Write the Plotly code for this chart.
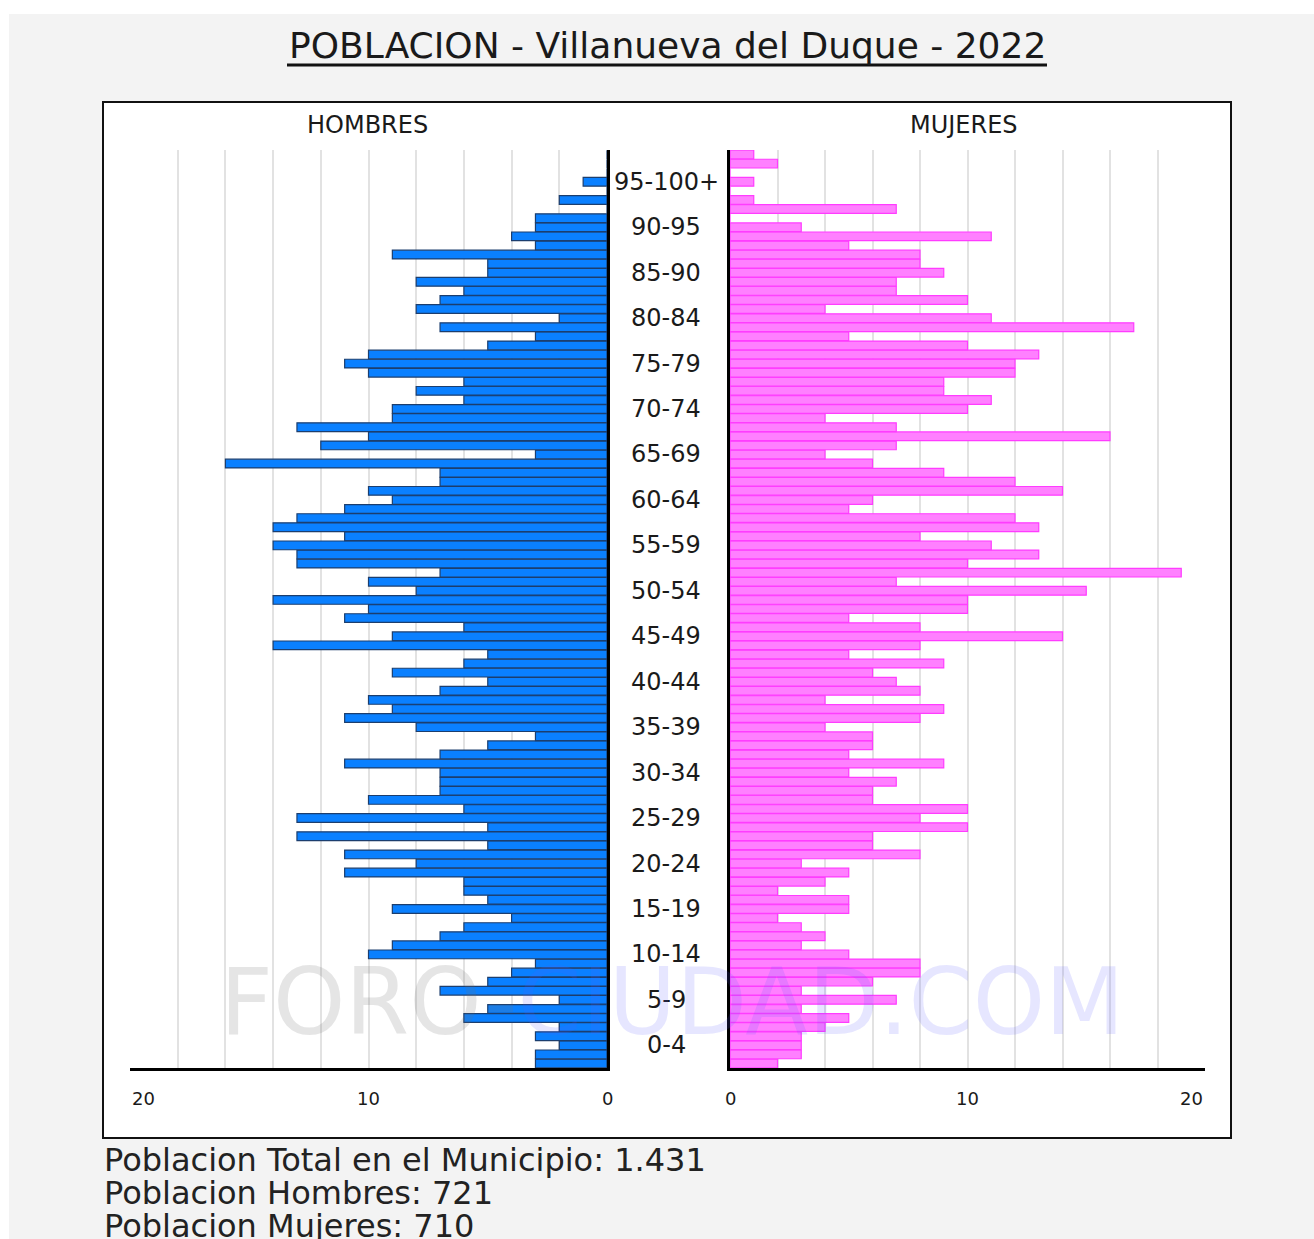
import plotly.graph_objects as go

# ---------------- data ----------------
ages = list(range(101))
men = [3, 3, 2, 3, 2, 6, 5, 2, 7, 5, 4, 3, 10, 9, 7, 6, 4, 9, 5, 6,
       6, 11, 8, 11, 5, 13, 5, 13, 6, 10, 7, 7, 7, 11, 7, 5, 3, 8, 11, 9,
       10, 7, 5, 9, 6, 5, 14, 9, 6, 11, 10, 14, 8, 10, 7, 13, 13, 14, 11, 14,
       13, 11, 9, 10, 7, 7, 16, 3, 12, 10, 13, 9, 9, 6, 8, 6, 10, 11, 10, 5,
       3, 7, 2, 8, 7, 6, 8, 5, 5, 9, 3, 4, 3, 3, 0, 2, 0, 1, 0, 0, 0]
women = [2, 3, 3, 3, 4, 5, 3, 7, 3, 6, 8, 8, 5, 3, 4, 3, 2, 5, 5, 2,
         4, 5, 3, 8, 6, 6, 10, 8, 10, 6, 6, 7, 5, 9, 5, 6, 6, 4, 8, 9,
         4, 8, 7, 6, 9, 5, 8, 14, 8, 5, 10, 10, 15, 7, 19, 10, 13, 11, 8, 13,
         12, 5, 6, 14, 12, 9, 6, 4, 7, 16, 7, 4, 10, 11, 9, 9, 12, 12, 13, 10,
         5, 17, 11, 4, 10, 7, 7, 9, 8, 8, 5, 11, 3, 0, 7, 1, 0, 1, 0, 2, 1]
group_labels = ["0-4", "5-9", "10-14", "15-19", "20-24", "25-29", "30-34", "35-39",
                "40-44", "45-49", "50-54", "55-59", "60-64", "65-69", "70-74", "75-79",
                "80-84", "85-90", "90-95", "95-100+"]
group_centers = [2 + 5 * i for i in range(len(group_labels))]
tick_vals = [20, 10, 0]
tick_text = ["20", "10", "0"]
title = "POBLACION - Villanueva del Duque - 2022"
footer = ["Poblacion Total en el Municipio: 1.431",
          "Poblacion Hombres: 721",
          "Poblacion Mujeres: 710"]

W, H = 1314, 1239
FONT = "DejaVu Sans"


def px(x):
    return x / W


def py(y):
    return 1 - y / H


fig = go.Figure()
fig.add_trace(go.Bar(
    y=ages, x=men, orientation="h", xaxis="x", yaxis="y",
    marker=dict(color="#0a80ff", line=dict(color="#1c3e6e", width=1.2)),
    showlegend=False, hoverinfo="x+y"))
fig.add_trace(go.Bar(
    y=ages, x=women, orientation="h", xaxis="x2", yaxis="y2",
    marker=dict(color="#ff80ff", line=dict(color="#ff3cff", width=1.2)),
    showlegend=False, hoverinfo="x+y"))

y_dom = [py(1068), py(150)]
grid = dict(showgrid=True, gridcolor="#e2e2e2", gridwidth=1.5, dtick=2, tick0=0,
            showticklabels=False, ticks="", zeroline=False,
            showline=True, linecolor="black", linewidth=3, fixedrange=True)
fig.update_layout(
    width=W, height=H,
    margin=dict(l=0, r=0, t=0, b=0),
    paper_bgcolor="white", plot_bgcolor="rgba(0,0,0,0)",
    font=dict(family=FONT, color="#222"),
    bargap=0.04,
    xaxis=dict(domain=[px(130), px(607)], range=[20, 0], anchor="y", **grid),
    xaxis2=dict(domain=[px(730), px(1205)], range=[0, 20], anchor="y2", **grid),
    yaxis=dict(domain=y_dom, range=[-0.5, 100.5], anchor="x", side="right",
               showgrid=False, showticklabels=False, ticks="", zeroline=False,
               showline=True, linecolor="black", linewidth=3, fixedrange=True),
    yaxis2=dict(domain=y_dom, range=[-0.5, 100.5], anchor="x2", side="left",
                showgrid=False, showticklabels=False, ticks="", zeroline=False,
                showline=True, linecolor="black", linewidth=3, fixedrange=True),
)

shapes = [
    # grey page background
    dict(type="rect", xref="paper", yref="paper", x0=px(9), x1=1, y0=0, y1=py(14),
         fillcolor="#f3f3f3", line=dict(width=0), layer="below"),
    # white chart box
    dict(type="rect", xref="paper", yref="paper", x0=px(103), x1=px(1231),
         y0=py(1138), y1=py(102), fillcolor="white",
         line=dict(color="#111", width=2), layer="below"),
    # title underline
    dict(type="line", xref="paper", yref="paper", x0=px(287), x1=px(1047),
         y0=py(65), y1=py(65), line=dict(color="#111", width=3)),
]

ann = []
ann.append(dict(text=title, x=px(667), y=py(46), xref="paper", yref="paper",
                showarrow=False, xanchor="center", yanchor="middle",
                font=dict(size=36, color="#1a1a1a")))
ann.append(dict(text="HOMBRES", x=px(367), y=py(125), xref="paper", yref="paper",
                showarrow=False, xanchor="center", yanchor="middle",
                font=dict(size=24, color="#1a1a1a")))
ann.append(dict(text="MUJERES", x=px(964), y=py(125), xref="paper", yref="paper",
                showarrow=False, xanchor="center", yanchor="middle",
                font=dict(size=24, color="#1a1a1a")))
for lab, c in zip(group_labels, group_centers):
    ann.append(dict(text=lab, x=px(666), y=c, xref="paper", yref="y",
                    showarrow=False, xanchor="center", yanchor="middle",
                    font=dict(size=24, color="#1a1a1a")))
for axref, v, t in [("x", tv, tt) for tv, tt in zip(tick_vals, tick_text)] + \
                   [("x2", tv, tt) for tv, tt in zip(tick_vals, tick_text)]:
    if v == 20:
        anchor = "left" if axref == "x" else "right"
    else:
        anchor = "center"
    ann.append(dict(text=t, x=v, y=py(1098), xref=axref, yref="paper",
                    showarrow=False, xanchor=anchor, yanchor="middle",
                    font=dict(size=18, color="#1a1a1a")))
for i, line in enumerate(footer):
    ann.append(dict(text=line, x=px(102), y=py(1160 + 33 * i), xref="paper", yref="paper",
                    showarrow=False, xanchor="left", yanchor="middle",
                    font=dict(size=32, color="#222")))
# watermark
ann.append(dict(text="<span style='color:rgba(110,110,110,0.18)'>FORO-</span>"
                     "<span style='color:rgba(90,90,255,0.15)'>CIUDAD.COM</span>",
                x=px(672), y=py(1002), xref="paper", yref="paper",
                showarrow=False, xanchor="center", yanchor="middle",
                font=dict(size=92)))

fig.update_layout(shapes=shapes, annotations=ann)

fig.write_html("out.html",
               config={"displayModeBar": False},
               post_script="document.body.style.margin='0';document.body.style.overflow='hidden';")
